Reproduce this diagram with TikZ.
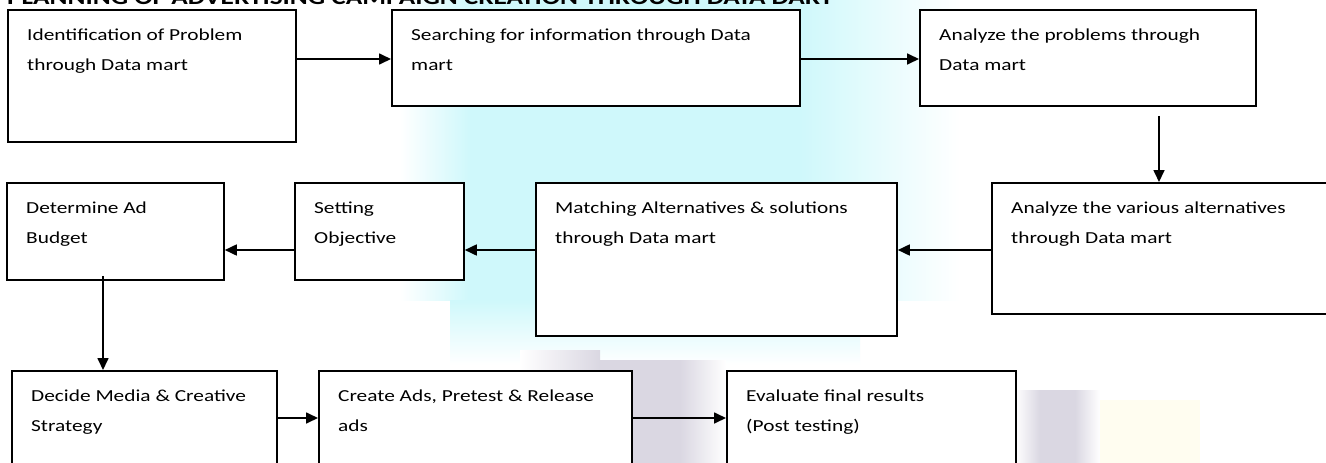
\documentclass[tikz,border=0pt]{standalone}
\usepackage{fontspec}
\setmainfont{Carlito}[FakeStretch=1.27]
\usetikzlibrary{arrows.meta,calc}
\definecolor{wmcyan}{HTML}{CFF8FB}
\definecolor{wmgray}{HTML}{DAD7E2}
\definecolor{wmyellow}{HTML}{FFFDF0}
\begin{document}
\begin{tikzpicture}[x=1pt,y=-1pt,
  stepbox/.style={draw=black, line width=1.8pt, fill=white, anchor=north west, inner sep=0pt},
  txt/.style={anchor=north west, inner sep=0pt, align=left, font=\fontsize{16.8}{30}\selectfont},
  arr/.style={line width=1.7pt, -{Triangle[length=12pt,width=11pt]}}]
\clip (0,0) rectangle (1326,463);
\fill[white] (0,0) rectangle (1326,463);

% faint watermark behind the chart
\shade[left color=white, right color=wmcyan] (400,0) rectangle (470,300);
\fill[wmcyan] (470,0) rectangle (800,300);
\shade[left color=wmcyan, right color=white] (800,0) rectangle (960,300);
\shade[top color=wmcyan, bottom color=white] (450,300) rectangle (860,365);
\shade[left color=white, right color=wmgray] (520,350) rectangle (600,463);
\fill[wmgray] (600,360) rectangle (680,463);
\shade[left color=wmgray, right color=white] (680,360) rectangle (726,463);
\shade[left color=white, right color=wmgray] (1015,390) rectangle (1040,463);
\fill[wmgray] (1040,390) rectangle (1075,463);
\shade[left color=wmgray, right color=white] (1075,390) rectangle (1100,463);
\fill[wmyellow] (1100,400) rectangle (1200,463);

% title (its upper half lies above the page edge)
\node[anchor=base west, inner sep=0pt, font=\bfseries] (title) at (7,5)
  {\resizebox{826pt}{!}{PLANNING OF ADVERTISING CAMPAIGN CREATION THROUGH DATA DART}};

% boxes
\node[stepbox, minimum width=288pt, minimum height=132pt] (b1) at (7,9) {};
\node[stepbox, minimum width=408pt, minimum height=96pt] (b2) at (391,9) {};
\node[stepbox, minimum width=336pt, minimum height=96pt] (b3) at (919,9) {};
\node[stepbox, minimum width=345pt, minimum height=131pt] (b4) at (991,182) {};
\node[stepbox, minimum width=361pt, minimum height=153pt] (b5) at (535,182) {};
\node[stepbox, minimum width=169pt, minimum height=97pt] (b6) at (294,182) {};
\node[stepbox, minimum width=217pt, minimum height=97pt] (b7) at (6,182) {};
\node[stepbox, minimum width=265pt, minimum height=120pt] (b8) at (11,370) {};
\node[stepbox, minimum width=313pt, minimum height=120pt] (b9) at (318,370) {};
\node[stepbox, minimum width=289pt, minimum height=120pt] (b10) at (726,370) {};

% box texts
\node[txt] (t1) at ($(b1.north west)+(20,10)$) {\strut Identification of Problem\\through Data mart};
\node[txt] (t2) at ($(b2.north west)+(20,10)$) {\strut Searching for information through Data\\mart};
\node[txt] (t3) at ($(b3.north west)+(20,10)$) {\strut Analyze the problems through\\Data mart};
\node[txt] (t4) at ($(b4.north west)+(20,10)$) {\strut Analyze the various alternatives\\through Data mart};
\node[txt] (t5) at ($(b5.north west)+(20,10)$) {\strut Matching Alternatives \& solutions\\through Data mart};
\node[txt] (t6) at ($(b6.north west)+(20,10)$) {\strut Setting\\Objective};
\node[txt] (t7) at ($(b7.north west)+(20,10)$) {\strut Determine Ad\\Budget};
\node[txt] (t8) at ($(b8.north west)+(20,10)$) {\strut Decide Media \& Creative\\Strategy};
\node[txt] (t9) at ($(b9.north west)+(20,10)$) {\strut Create Ads, Pretest \& Release\\ads};
\node[txt] (t10) at ($(b10.north west)+(20,10)$) {\strut Evaluate final results\\(Post testing)};

% connectors
\coordinate (c1) at ($(b2.north west)+(0,50)$);
\draw[arr] (c1 -| b1.east) -- (c1);
\coordinate (c2) at ($(b3.north west)+(0,50)$);
\draw[arr] (c2 -| b2.east) -- (c2);
\coordinate (c3) at ($(b3.south west)+(240,9)$);
\draw[arr] (c3) -- (c3 |- b4.north);
\coordinate (c4) at ($(b4.north west)+(0,68)$);
\draw[arr] (c4) -- (c4 -| b5.east);
\coordinate (c5) at ($(b5.north west)+(0,68)$);
\draw[arr] (c5) -- (c5 -| b6.east);
\coordinate (c6) at ($(b6.north west)+(0,68)$);
\draw[arr] (c6) -- (c6 -| b7.east);
\coordinate (c7) at ($(b7.south west)+(97,-5)$);
\draw[arr] (c7) -- (c7 |- b8.north);
\coordinate (c8) at ($(b8.north east)+(0,48)$);
\draw[arr] (c8) -- (c8 -| b9.west);
\coordinate (c9) at ($(b9.north east)+(0,48)$);
\draw[arr] (c9) -- (c9 -| b10.west);
\end{tikzpicture}
\end{document}
